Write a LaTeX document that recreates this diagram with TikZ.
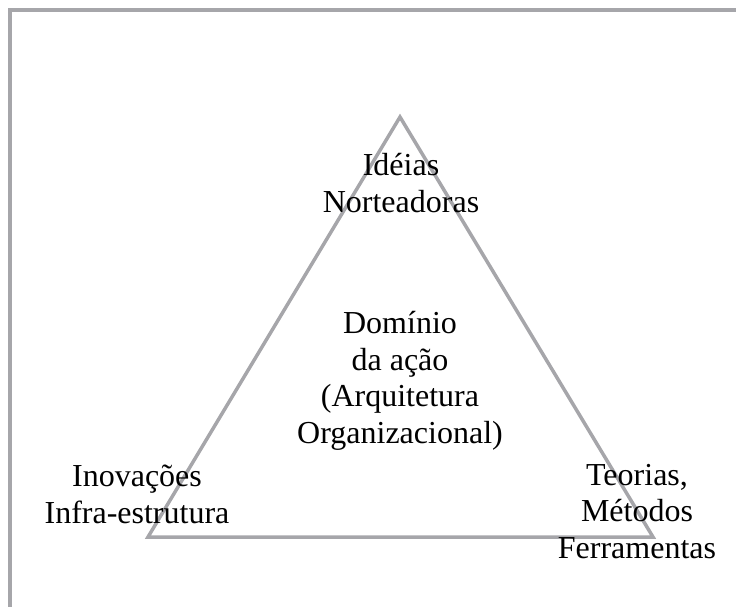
\documentclass[tikz,border=0pt]{standalone}
\usepackage{fontspec}
\setmainfont{Liberation Serif}
\usepackage{tikz}
\usetikzlibrary{positioning}

\definecolor{framegray}{RGB}{166,166,170}

\begin{document}
\begin{tikzpicture}[
            x = 1pt, y = -1pt,
            frame/.style = {
                draw = framegray,
                line width = 4pt,
            },
            edgeline/.style = {
                draw = framegray,
                line width = 3.5pt,
                line join = miter,
            },
            label/.style = {
                align = center,
                inner sep = 0pt,
                anchor = base,
                font = \fontsize{32}{36.5}\selectfont,
            },
        ]
        \useasboundingbox (0,0) rectangle (736,607);

        % Moldura
        \draw[frame] (10,609) -- (10,10.5) -- (738,10.5);

        % Vertices
        \coordinate (top) at (400,117);
        \coordinate (left) at (148,537);
        \coordinate (right) at (653,537);

        \draw[edgeline] (top) -- (left) -- (right) -- cycle;

        % Textos (ancorados na ultima linha)
        \node[label] (ideias) at (401,212) {Idéias\\Norteadoras};
        \node[label] (dominio) at (400,443) {Domínio\\da ação\\(Arquitetura\\Organizacional)};
        \node[label] (inovacoes) at (137,523) {Inovações\\Infra-estrutura};
        \node[label] (teorias) at (637,558) {Teorias,\\Métodos\\Ferramentas};
\end{tikzpicture}
\end{document}
